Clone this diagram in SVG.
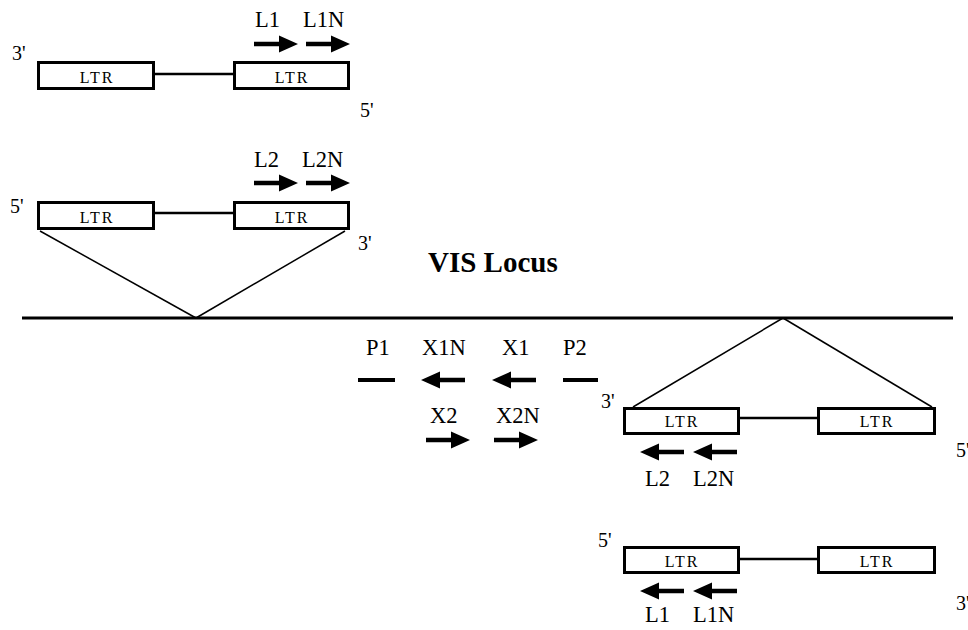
<svg xmlns="http://www.w3.org/2000/svg" xmlns:xlink="http://www.w3.org/1999/xlink" width="968" height="630" viewBox="0 0 968 630" font-family="'Liberation Serif', 'Times New Roman', 'DejaVu Serif', serif">
<style>
.box{fill:#fff;stroke:#000;stroke-width:3}
.lnk{stroke:#000;stroke-width:2.5;fill:none}
.diag{stroke:#000;stroke-width:1.5;fill:none}
.main{stroke:#000;stroke-width:3;fill:none}
.dash{stroke:#000;stroke-width:4}
.ltr{font-family:'Liberation Serif','Times New Roman','DejaVu Serif',serif;font-size:16px;letter-spacing:2px;text-anchor:middle;fill:#000}
.lbl{font-family:'Liberation Serif','Times New Roman','DejaVu Serif',serif;font-size:22.5px;fill:#000}
.end{font-family:'Liberation Serif','Times New Roman','DejaVu Serif',serif;font-size:20px;fill:#000}
.title{font-family:'Liberation Serif','Times New Roman','DejaVu Serif',serif;font-size:29px;font-weight:bold;fill:#000}
</style>
<defs>
<path id="ar" d="M0,-2.3 H25 V-8.5 L44,0 L25,8.5 V2.3 H0 Z" fill="#000"/>
<path id="al" d="M0,0 L19,-8.5 V-2.3 H44 V2.3 H19 V8.5 Z" fill="#000"/>
</defs>

<g id="connectors">
<line class="main" x1="22" y1="318" x2="953" y2="318"/>
<line class="diag" x1="40" y1="231" x2="196" y2="318"/>
<line class="diag" x1="345" y1="231" x2="196" y2="318"/>
<line class="diag" x1="783" y1="318" x2="633" y2="407"/>
<line class="diag" x1="783" y1="318" x2="932" y2="407"/>
</g>

<g id="title"><text class="title" x="428" y="272">VIS Locus</text></g>

<g id="construct1">
<line class="lnk" x1="154" y1="74" x2="234" y2="74"/>
<rect class="box" x="38.5" y="62.5" width="115" height="26"/>
<rect class="box" x="234.5" y="62.5" width="114" height="26"/>
<text class="ltr" x="97" y="82.5">LTR</text>
<text class="ltr" x="292" y="82.5">LTR</text>
<text class="end" x="12" y="60">3'</text>
<text class="end" x="360" y="117">5'</text>
</g>
<g id="primers1">
<use xlink:href="#ar" transform="translate(254,44)"/>
<use xlink:href="#ar" transform="translate(306,44)"/>
<text class="lbl" x="255" y="27">L1</text>
<text class="lbl" x="303" y="27">L1N</text>
</g>

<g id="construct2">
<line class="lnk" x1="154" y1="213" x2="234" y2="213"/>
<rect class="box" x="38.5" y="202.5" width="115" height="26"/>
<rect class="box" x="234.5" y="202.5" width="114" height="26"/>
<text class="ltr" x="97" y="222.5">LTR</text>
<text class="ltr" x="292" y="222.5">LTR</text>
<text class="end" x="10" y="213">5'</text>
<text class="end" x="358" y="250">3'</text>
</g>
<g id="primers2">
<use xlink:href="#ar" transform="translate(254,183)"/>
<use xlink:href="#ar" transform="translate(306,183)"/>
<text class="lbl" x="254" y="167">L2</text>
<text class="lbl" x="302" y="167">L2N</text>
</g>

<g id="locus-primers">
<text class="lbl" x="366" y="355">P1</text>
<text class="lbl" x="422" y="355">X1N</text>
<text class="lbl" x="502" y="355">X1</text>
<text class="lbl" x="563" y="355">P2</text>
<line class="dash" x1="358" y1="380" x2="395" y2="380"/>
<use xlink:href="#al" transform="translate(421,380)"/>
<use xlink:href="#al" transform="translate(492,380)"/>
<line class="dash" x1="563" y1="380" x2="598" y2="380"/>
<text class="lbl" x="430" y="423">X2</text>
<text class="lbl" x="496" y="423">X2N</text>
<use xlink:href="#ar" transform="translate(426,440)"/>
<use xlink:href="#ar" transform="translate(494,440)"/>
</g>

<g id="construct3">
<line class="lnk" x1="740" y1="418" x2="818" y2="418"/>
<rect class="box" x="624.5" y="408.5" width="114" height="25"/>
<rect class="box" x="818.5" y="408.5" width="116" height="25"/>
<text class="ltr" x="682" y="427">LTR</text>
<text class="ltr" x="877" y="427">LTR</text>
<text class="end" x="601" y="408">3'</text>
<text class="end" x="956" y="457">5'</text>
</g>
<g id="primers3">
<use xlink:href="#al" transform="translate(640,452)"/>
<use xlink:href="#al" transform="translate(693,452)"/>
<text class="lbl" x="645" y="486">L2</text>
<text class="lbl" x="693" y="486">L2N</text>
</g>

<g id="construct4">
<line class="lnk" x1="740" y1="559" x2="818" y2="559"/>
<rect class="box" x="624.5" y="547.5" width="114" height="25"/>
<rect class="box" x="818.5" y="547.5" width="116" height="25"/>
<text class="ltr" x="682" y="566.5">LTR</text>
<text class="ltr" x="877" y="566.5">LTR</text>
<text class="end" x="598" y="547">5'</text>
<text class="end" x="956" y="610">3'</text>
</g>
<g id="primers4">
<use xlink:href="#al" transform="translate(640,591)"/>
<use xlink:href="#al" transform="translate(693,591)"/>
<text class="lbl" x="645" y="622">L1</text>
<text class="lbl" x="693" y="622">L1N</text>
</g>
</svg>
